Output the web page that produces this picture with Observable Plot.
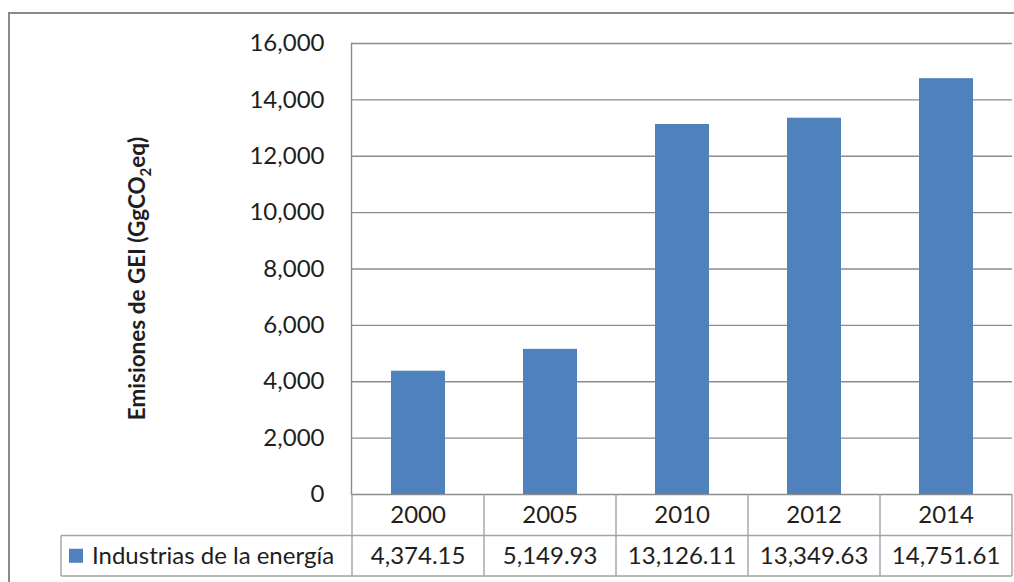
<!DOCTYPE html>
<html>
<head>
<meta charset="utf-8">
<script src="https://cdn.jsdelivr.net/npm/d3@7"></script>
<script src="https://cdn.jsdelivr.net/npm/@observablehq/plot@0.6"></script>
<style>
  html, body { margin: 0; padding: 0; background: #fff; }
  #chart svg { display: block; }
</style>
</head>
<body>
<div id="chart"></div>
<script>
// Emisiones de GEI de las industrias de la energía (GgCO2eq)
const years = ["2000", "2005", "2010", "2012", "2014"];
const emissions = [4374.15, 5149.93, 13126.11, 13349.63, 14751.61];
const yTicks = [0, 2000, 4000, 6000, 8000, 10000, 12000, 14000, 16000];
const seriesName = "Industrias de la energía";
const yTitleMain = "Emisiones de GEI (GgCO";
const yTitleSub = "2";
const yTitleEnd = "eq)";

const rows = years.map((year, i) => ({year, value: emissions[i]}));

const barColor = "#4f81bd";
const gridColor = "#8c8c8c";
const tableColor = "#a3a3a3";
const textColor = "#1e1e1e";
const font = "Lato, 'Open Sans', sans-serif";

const W = 1014, H = 582;
const margin = {top: 43, right: 2, bottom: 88, left: 351};
const headerH = 41.5, dataH = 40.5;
const legendLeft = 61;

// Outer chart border
function chartBorder() {
  const g = d3.create("svg:g");
  g.append("rect")
    .attr("x", 9).attr("y", 13)
    .attr("width", W + 20).attr("height", H + 20)
    .attr("fill", "none").attr("stroke", "#8a8a8a").attr("stroke-width", 2);
  return g.node();
}

// Rotated y-axis title with subscript
function yTitle(index, scales, values, dim) {
  const cy = (dim.marginTop + dim.height - dim.marginBottom) / 2 + 10;
  const t = d3.create("svg:text")
    .attr("transform", `translate(145,${cy}) rotate(-90)`)
    .attr("text-anchor", "middle")
    .attr("font-family", font)
    .attr("font-weight", "bold")
    .attr("font-size", 22.5)
    .attr("fill", textColor);
  t.append("tspan").text(yTitleMain);
  t.append("tspan").attr("font-size", 15).attr("dy", 6).text(yTitleSub);
  t.append("tspan").attr("dy", -6).text(yTitleEnd);
  return t.node();
}

// Data table under the x axis: category header row and value row
function dataTable(index, scales, values, dim) {
  const x = scales.x;
  const y0 = scales.y(0);
  const bw = (dim.width - dim.marginLeft - dim.marginRight) / years.length;
  const right = dim.width - dim.marginRight;
  const yMid = y0 + headerH, yBot = y0 + headerH + dataH;
  const fmt = d3.format(",.2f");
  const g = d3.create("svg:g")
    .attr("font-family", font)
    .attr("font-size", 24)
    .attr("fill", textColor);
  const lines = g.append("g").attr("stroke", tableColor).attr("stroke-width", 1.4);
  // horizontal rules
  lines.append("line").attr("x1", legendLeft).attr("x2", right).attr("y1", yMid).attr("y2", yMid);
  lines.append("line").attr("x1", legendLeft).attr("x2", right).attr("y1", yBot).attr("y2", yBot);
  lines.append("line").attr("x1", legendLeft).attr("x2", legendLeft).attr("y1", yMid).attr("y2", yBot);
  // column boundaries
  years.forEach(yr => {
    const x0 = x(yr);
    lines.append("line").attr("x1", x0).attr("x2", x0).attr("y1", y0).attr("y2", yBot);
  });
  lines.append("line").attr("x1", right).attr("x2", right).attr("y1", y0).attr("y2", yBot);
  // text
  rows.forEach(d => {
    const cx = x(d.year) + bw / 2;
    g.append("text").attr("x", cx).attr("y", y0 + headerH / 2).attr("dy", "0.36em")
      .attr("text-anchor", "middle").text(d.year);
    g.append("text").attr("x", cx).attr("y", yMid + dataH / 2).attr("dy", "0.36em")
      .attr("text-anchor", "middle").text(fmt(d.value));
  });
  // legend key
  g.append("rect").attr("x", 69).attr("y", yMid + dataH / 2 - 7)
    .attr("width", 14).attr("height", 14).attr("fill", barColor);
  g.append("text").attr("x", 92).attr("y", yMid + dataH / 2).attr("dy", "0.36em")
    .attr("text-anchor", "start").text(seriesName);
  return g.node();
}

const chart = Plot.plot({
  width: W,
  height: H,
  marginTop: margin.top,
  marginRight: margin.right,
  marginBottom: margin.bottom,
  marginLeft: margin.left,
  style: {fontFamily: font, background: "#fff", overflow: "visible"},
  x: {domain: years, padding: 0, axis: null},
  y: {domain: [0, 16000], axis: null},
  marks: [
    chartBorder,
    Plot.ruleY(yTicks, {stroke: gridColor, strokeWidth: 1.4}),
    Plot.frame({anchor: "left", stroke: gridColor, strokeWidth: 1.4}),
    Plot.barY(rows, {x: "year", y: "value", fill: barColor, insetLeft: 39, insetRight: 39}),
    Plot.axisY({
      ticks: yTicks, tickSize: 0, tickPadding: 27,
      tickFormat: d3.format(","), fontSize: 24, fill: textColor, label: null
    }),
    dataTable,
    yTitle
  ]
});

document.getElementById("chart").append(chart);
</script>
</body>
</html>
